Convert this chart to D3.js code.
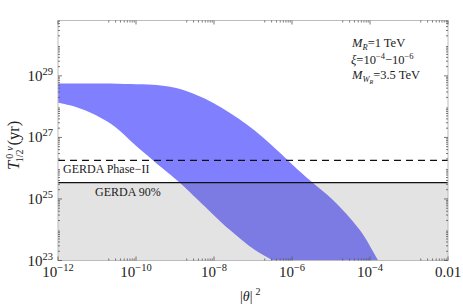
<!DOCTYPE html>
<html>
<head>
<meta charset="utf-8">
<script src="https://cdn.jsdelivr.net/npm/d3@7"></script>
<style>
  body { margin: 0; background: #fff; }
  text { font-family: "Liberation Serif", "Times New Roman", serif; fill: #222; }
</style>
</head>
<body>
<div class="chart"></div>
<script>
var svgWidth = 463;
var svgHeight = 305;

// plot box
var plotLeft = 58, plotRight = 448, plotTop = 20.5, plotBottom = 260.5;

// band edges (log10 of |theta|^2, log10 of T)
var upperLogTheta = [-12, -11, -10.3, -9.69, -9.26, -8.87, -8.45, -8.03, -7.6, -7.15, -6.72, -6.31, -6.10, -5.85, -5.46, -4.95, -4.26, -3.79, -3.6];
var upperLogT     = [28.75, 28.75, 28.74, 28.72, 28.67, 28.57, 28.38, 28.13, 27.8, 27.41, 26.97, 26.50, 26.25, 25.95, 25.52, 24.97, 23.99, 23.0, 22.6];
var lowerLogTheta = [-12, -11.56, -11.05, -10.54, -10.03, -9.56, -8.87, -8.41, -7.59, -6.95, -6.49, -6.3];
var lowerLogT     = [28.13, 28.0, 27.74, 27.35, 26.76, 26.25, 25.52, 24.97, 23.99, 23.34, 23.0, 22.85];

// limits
var gerda90 = 3.4e25;
var gerdaPhase2 = 1.8e26;

// tick labels
var xTicks = [1e-12, 1e-10, 1e-8, 1e-6, 1e-4, 1e-2];
var xTickLabels = [["10", "−12"], ["10", "−10"], ["10", "−8"], ["10", "−6"], ["10", "−4"], ["0.01", ""]];
var yTicks = [1e23, 1e25, 1e27, 1e29];
var yTickLabels = [["10", "23"], ["10", "25"], ["10", "27"], ["10", "29"]];
var xMinorDecades = [-11, -9, -7, -5, -3];
var yMinorDecades = [23, 24, 25, 26, 27, 28, 29, 30];

var svg = d3.select(".chart")
  .append("svg")
  .attr("width", svgWidth)
  .attr("height", svgHeight);

var x = d3.scaleLog().domain([1e-12, 1e-2]).range([plotLeft, plotRight]);
var y = d3.scaleLog().domain([1e23, Math.pow(10, 30.8)]).range([plotBottom, plotTop]);

svg.append("clipPath").attr("id", "plotclip")
  .append("rect")
  .attr("x", plotLeft).attr("y", plotTop)
  .attr("width", plotRight - plotLeft).attr("height", plotBottom - plotTop);

var plot = svg.append("g").attr("clip-path", "url(#plotclip)");

// band
var upper = upperLogTheta.map((v, i) => [Math.pow(10, v), Math.pow(10, upperLogT[i])]);
var lower = lowerLogTheta.map((v, i) => [Math.pow(10, v), Math.pow(10, lowerLogT[i])]);
var line = d3.line()
  .x(d => x(d[0]))
  .y(d => y(d[1]))
  .curve(d3.curveCatmullRom);
var lowerPath = line(lower.slice().reverse());
var bandPath = line(upper) + "L" + lowerPath.slice(1) + "Z";

plot.append("path")
  .attr("d", bandPath)
  .attr("fill", "rgb(128,128,255)");

// excluded region below GERDA 90%
plot.append("rect")
  .attr("x", plotLeft)
  .attr("y", y(gerda90))
  .attr("width", plotRight - plotLeft)
  .attr("height", plotBottom - y(gerda90))
  .attr("fill", "#646464")
  .attr("fill-opacity", 0.18);

plot.append("line")
  .attr("x1", plotLeft).attr("x2", plotRight)
  .attr("y1", y(gerda90)).attr("y2", y(gerda90))
  .attr("stroke", "#111").attr("stroke-width", 1.3);

plot.append("line")
  .attr("x1", plotLeft).attr("x2", plotRight)
  .attr("y1", y(gerdaPhase2)).attr("y2", y(gerdaPhase2))
  .attr("stroke", "#111").attr("stroke-width", 1.3)
  .attr("stroke-dasharray", "7,5");

svg.append("text")
  .attr("x", 63).attr("y", y(gerdaPhase2) + 13)
  .attr("font-size", 12)
  .text("GERDA Phase−II");

svg.append("text")
  .attr("x", 95).attr("y", y(gerda90) + 13)
  .attr("font-size", 12)
  .text("GERDA 90%");

// frame
svg.append("rect")
  .attr("x", plotLeft).attr("y", plotTop)
  .attr("width", plotRight - plotLeft).attr("height", plotBottom - plotTop)
  .attr("fill", "none")
  .attr("stroke", "#bbb").attr("stroke-width", 1);

// ticks
var ticks = svg.append("g").attr("stroke", "#555").attr("stroke-width", 0.8);
xTicks.forEach(function(t) {
  ticks.append("line").attr("x1", x(t)).attr("x2", x(t)).attr("y1", plotBottom).attr("y2", plotBottom - 4);
  ticks.append("line").attr("x1", x(t)).attr("x2", x(t)).attr("y1", plotTop).attr("y2", plotTop + 4);
});
xMinorDecades.forEach(function(k) {
  for (var m = 2; m <= 9; m++) {
    var v = x(m * Math.pow(10, k));
    ticks.append("line").attr("x1", v).attr("x2", v).attr("y1", plotBottom).attr("y2", plotBottom - 2);
    ticks.append("line").attr("x1", v).attr("x2", v).attr("y1", plotTop).attr("y2", plotTop + 2);
  }
});
yTicks.forEach(function(t) {
  ticks.append("line").attr("x1", plotLeft).attr("x2", plotLeft + 4).attr("y1", y(t)).attr("y2", y(t));
  ticks.append("line").attr("x1", plotRight).attr("x2", plotRight - 4).attr("y1", y(t)).attr("y2", y(t));
});
yMinorDecades.forEach(function(k) {
  for (var m = 2; m <= 9; m++) {
    var v = y(m * Math.pow(10, k));
    if (v < plotTop) continue;
    ticks.append("line").attr("x1", plotLeft).attr("x2", plotLeft + 2).attr("y1", v).attr("y2", v);
    ticks.append("line").attr("x1", plotRight).attr("x2", plotRight - 2).attr("y1", v).attr("y2", v);
  }
});

// tick labels
xTicks.forEach(function(t, i) {
  var lab = svg.append("text")
    .attr("x", x(t)).attr("y", 277)
    .attr("text-anchor", "middle")
    .attr("font-size", 15);
  lab.append("tspan").text(xTickLabels[i][0]);
  if (xTickLabels[i][1]) {
    lab.append("tspan").attr("dy", -6).attr("font-size", 10.5).text(xTickLabels[i][1]);
  }
});
yTicks.forEach(function(t, i) {
  var lab = svg.append("text")
    .attr("x", 53).attr("y", y(t) + 5)
    .attr("text-anchor", "end")
    .attr("font-size", 15);
  lab.append("tspan").text(yTickLabels[i][0]);
  lab.append("tspan").attr("dy", -6).attr("font-size", 10.5).text(yTickLabels[i][1]);
});

// axis titles
var xt = svg.append("text")
  .attr("x", 240).attr("y", 301)
  .attr("font-size", 14);
xt.append("tspan").text("|");
xt.append("tspan").attr("font-style", "italic").text("θ");
xt.append("tspan").text("|");
xt.append("tspan").attr("dx", 3).attr("dy", -6).attr("font-size", 10).text("2");

var yt = svg.append("text")
  .attr("transform", "translate(19, 170) rotate(-90)")
  .attr("font-size", 16.5);
yt.append("tspan").attr("font-style", "italic").text("T");
yt.append("tspan").attr("dx", 2).attr("dy", -6).attr("font-size", 10).text("0");
yt.append("tspan").attr("dx", 3).attr("font-size", 10).attr("font-style", "italic").text("ν");
yt.append("tspan").attr("dx", -16).attr("dy", 10).attr("font-size", 10).text("1/2");
yt.append("tspan").attr("dx", 4).attr("dy", -4).text("(yr)");

// parameters
var ann = svg.append("g").attr("font-size", 12.5);
var a1 = ann.append("text").attr("x", 352).attr("y", 47);
a1.append("tspan").attr("font-style", "italic").text("M");
a1.append("tspan").attr("dy", 3).attr("font-size", 8.5).attr("font-style", "italic").text("R");
a1.append("tspan").attr("dy", -3).text("=1 TeV");

var a2 = ann.append("text").attr("x", 351).attr("y", 64);
a2.append("tspan").attr("font-style", "italic").text("ξ");
a2.append("tspan").text("=10");
a2.append("tspan").attr("dy", -5).attr("font-size", 8.5).text("−4");
a2.append("tspan").attr("dy", 5).text("−10");
a2.append("tspan").attr("dy", -5).attr("font-size", 8.5).text("−6");

var a3 = ann.append("text").attr("x", 352).attr("y", 79);
a3.append("tspan").attr("font-style", "italic").text("M");
a3.append("tspan").attr("dy", 3).attr("font-size", 8.5).attr("font-style", "italic").text("W");
a3.append("tspan").attr("dy", 2).attr("font-size", 6).attr("font-style", "italic").text("R");
a3.append("tspan").attr("dy", -5).text("=3.5 TeV");
</script>
</body>
</html>
